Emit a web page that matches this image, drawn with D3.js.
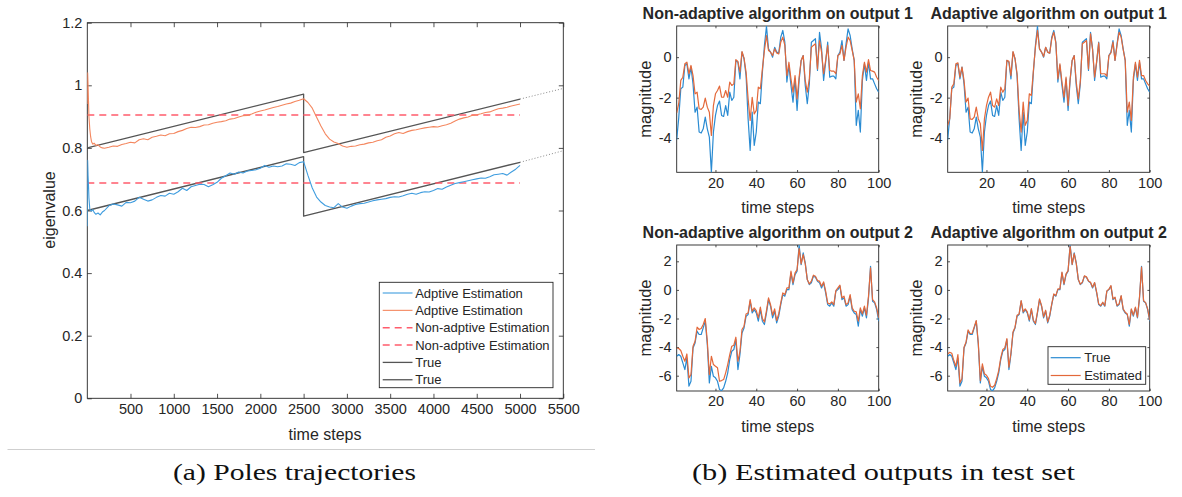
<!DOCTYPE html>
<html>
<head>
<meta charset="utf-8">
<script src="https://cdnjs.cloudflare.com/ajax/libs/d3/7.8.5/d3.min.js"></script>
<style>
body { margin: 0; background: #fff; }
</style>
</head>
<body>
<div id="chart-area"></div>
<script>
'use strict';

// ---- (a) poles trajectories ----
let poleSteps = [1, 5, 10, 15, 20, 30, 40, 50, 65, 80, 100, 125, 150, 175, 200,
    250, 300, 350, 400, 450, 500, 550, 600, 650, 700, 750, 800, 850, 900, 950, 1000,
    1050, 1100, 1150, 1200, 1250, 1300, 1350, 1400, 1450, 1500, 1550, 1600, 1650, 1700,
    1750, 1800, 1850, 1900, 1950, 2000, 2050, 2100, 2150, 2200, 2250, 2300, 2350, 2400,
    2450, 2500, 2550, 2600, 2650, 2700, 2750, 2800, 2850, 2900, 2950, 3000,
    3050, 3100, 3150, 3200, 3250, 3300, 3350, 3400, 3450, 3500, 3550, 3600, 3650, 3700,
    3750, 3800, 3850, 3900, 3950, 4000, 4050, 4100, 4150, 4200, 4250, 4300, 4350, 4400,
    4450, 4500, 4550, 4600, 4650, 4700, 4750, 4800, 4850, 4900, 4950, 5000];

let adaptivePole1 = [0.55, 0.76, 0.71, 0.68, 0.64, 0.605, 0.60, 0.598, 0.603, 0.594, 0.588, 0.592, 0.586, 0.595, 0.60,
    0.615, 0.621, 0.618, 0.614, 0.626, 0.625, 0.63, 0.642, 0.636, 0.63, 0.634, 0.642, 0.648, 0.646, 0.655, 0.652,
    0.66, 0.671, 0.664, 0.676, 0.68, 0.684, 0.683, 0.676, 0.682, 0.69, 0.703, 0.711, 0.72, 0.716,
    0.723, 0.72, 0.726, 0.728, 0.73, 0.735, 0.744, 0.738, 0.742, 0.74, 0.742, 0.749, 0.748, 0.744,
    0.753, 0.756, 0.712, 0.672, 0.643, 0.627, 0.616, 0.611, 0.609, 0.622, 0.611, 0.607,
    0.614, 0.619, 0.622, 0.623, 0.627, 0.631, 0.634, 0.636, 0.638, 0.642, 0.644, 0.643, 0.647, 0.652,
    0.655, 0.652, 0.657, 0.66, 0.659, 0.664, 0.67, 0.668, 0.675, 0.681, 0.686, 0.689, 0.692, 0.695,
    0.698, 0.701, 0.704, 0.703, 0.708, 0.714, 0.716, 0.718, 0.713, 0.723, 0.732, 0.744];

let adaptivePole2 = [0.94, 1.04, 1.00, 0.95, 0.90, 0.86, 0.835, 0.82, 0.812, 0.815, 0.808, 0.81, 0.803, 0.80, 0.799,
    0.802, 0.806, 0.805, 0.811, 0.814, 0.818, 0.816, 0.826, 0.829, 0.826, 0.834, 0.837, 0.841, 0.839, 0.845, 0.846,
    0.852, 0.856, 0.862, 0.866, 0.865, 0.868, 0.873, 0.874, 0.879, 0.882, 0.884, 0.887, 0.892, 0.894,
    0.899, 0.903, 0.904, 0.908, 0.914, 0.918, 0.921, 0.925, 0.929, 0.932, 0.936, 0.94, 0.943, 0.948,
    0.952, 0.957, 0.945, 0.927, 0.898, 0.87, 0.845, 0.828, 0.819, 0.814, 0.806, 0.802,
    0.805, 0.806, 0.81, 0.812, 0.816, 0.818, 0.823, 0.826, 0.834, 0.838, 0.845, 0.849, 0.846, 0.852,
    0.856, 0.858, 0.861, 0.864, 0.866, 0.868, 0.867, 0.871, 0.874, 0.879, 0.886, 0.892, 0.896, 0.899,
    0.904, 0.906, 0.909, 0.913, 0.915, 0.92, 0.925, 0.927, 0.93, 0.934, 0.937, 0.94];

let nonAdaptivePoles = [0.688, 0.905];
let nonAdaptiveSpan = [1, 5000];

let trueSteps = [1, 2500, 2500, 5000];
let truePole1 = [0.60, 0.772, 0.582, 0.754];
let truePole2 = [0.80, 0.972, 0.785, 0.956];
let extSteps = [5000, 5500];
let extPole1 = [0.754, 0.791];
let extPole2 = [0.956, 0.99];

let poleXTicks = [500, 1000, 1500, 2000, 2500, 3000, 3500, 4000, 4500, 5000, 5500];
let poleYTicks = [0, 0.2, 0.4, 0.6, 0.8, 1, 1.2];
let poleLegend = ['Adptive Estimation', 'Adptive Estimation', 'Non-adptive Estimation',
    'Non-adptive Estimation', 'True', 'True'];

// ---- (b) estimated outputs, time steps 1..100 ----
let true1 = [-4.07, -3.0, -1.56, -1.48, -0.41, -0.33, -1.07, -0.49, -1.32, -2.72,
    -2.47, -3.70, -3.75, -3.54, -2.96, -3.54, -3.95, -5.68, -3.70, -2.88,
    -2.39, -2.17, -2.88, -2.93, -2.39, -2.88, -1.73, -2.14, -1.98, -0.16,
    -0.25, -1.07, 0.25, -0.08, -0.91, -3.05, -4.61, -2.72, -4.36, -3.70,
    -2.22, -2.30, -0.74, 0.58, 1.53, 0.41, 0.25, 0, 0.49, 0.25,
    0.20, 0.99, 1.32, 0.74, -1.23, -0.41, -1.40, -2.22, -1.07, -2.63,
    -1.15, -0.16, 0.08, -1.40, -2.30, -1.32, 0.74, 0.82, 0.91, -0.66,
    1.23, 0.41, -1.15, -0.25, 0.74, -0.99, -0.94, -0.94, -1.07, 0.08,
    0.25, 0.82, -0.16, 0.66, 1.40, 1.07, 0.41, -0.16, -3.37, -2.63,
    -3.70, -1.15, -0.33, -1.15, -0.25, -1.07, -1.07, -1.32, -1.56, -1.73];

let nonAdaptive1 = [-2.75, -2.30, -1.15, -0.99, -0.33, -0.25, -0.82, -0.41, -0.91, -1.81,
    -1.73, -2.55, -2.58, -2.47, -2.02, -2.47, -2.72, -3.87, -2.39, -1.81,
    -1.65, -1.43, -1.98, -1.98, -1.65, -1.98, -1.23, -1.40, -1.32, -0.12,
    -0.21, -0.74, 0.28, -0.05, -0.74, -2.06, -3.13, -1.98, -2.80, -2.63,
    -1.48, -1.56, -0.58, 0.33, 1.07, 0.33, 0.25, 0.08, 0.41, 0.21,
    0.16, 0.74, 0.99, 0.58, -0.91, -0.25, -1.07, -1.73, -0.91, -2.06,
    -0.99, -0.16, 0.08, -1.15, -1.73, -1.07, 0.49, 0.58, 0.66, -0.58,
    0.82, 0.25, -0.82, -0.16, 0.58, -0.66, -0.69, -0.69, -0.82, 0.08,
    0.16, 0.58, -0.16, 0.49, 0.99, 0.82, 0.33, -0.16, -2.22, -1.81,
    -2.55, -0.91, -0.25, -0.74, -0.12, -0.66, -0.69, -0.74, -0.99, -1.15];

let adaptive1 = [-3.37, -3.05, -1.48, -1.32, -0.33, -0.28, -0.99, -0.49, -1.15, -2.22,
    -2.02, -3.05, -3.08, -2.96, -2.47, -3.05, -3.29, -4.61, -3.05, -2.39,
    -1.98, -1.73, -2.39, -2.47, -2.06, -2.39, -1.48, -1.73, -1.56, -0.16,
    -0.21, -0.91, 0.28, -0.08, -0.82, -2.63, -3.70, -2.22, -3.37, -3.13,
    -1.81, -1.89, -0.66, 0.49, 1.32, 0.41, 0.25, 0.03, 0.49, 0.25,
    0.20, 0.91, 1.23, 0.71, -1.07, -0.33, -1.23, -1.98, -0.99, -2.39,
    -1.07, -0.16, 0.08, -1.23, -2.06, -1.20, 0.66, 0.74, 0.82, -0.58,
    1.15, 0.38, -0.99, -0.21, 0.71, -0.82, -0.82, -0.82, -0.94, 0.08,
    0.21, 0.74, -0.16, 0.61, 1.23, 0.99, 0.38, -0.16, -2.72, -2.22,
    -3.13, -0.99, -0.25, -0.99, -0.16, -0.91, -0.91, -1.15, -1.32, -1.43];

let true2 = [-4.64, -4.52, -4.64, -5.10, -5.57, -4.76, -6.73, -6.39, -4.06, -3.71,
    -2.89, -3.12, -3.12, -2.66, -2.19, -3.82, -6.50, -5.34, -6.04, -6.15,
    -6.39, -6.97, -7.05, -6.85, -6.39, -5.80, -4.87, -4.29, -4.17, -3.47,
    -5.57, -4.52, -3.01, -2.66, -1.84, -1.72, -0.79, -1.61, -1.38, -1.61,
    -2.19, -1.38, -2.19, -2.42, -1.61, -0.68, -1.14, -1.96, -1.49, -2.31,
    -1.84, -1.03, -0.33, -0.44, 0.02, 0.02, 1.19, 0.37, 1.07, 1.31,
    3.15, 1.77, 2.59, 1.89, 0.72, 0.37, 0.49, 0.96, 0.89, 0.61,
    0.49, 0.14, 0.49, -0.21, -1.03, -1.14, -0.91, -1.14, -0.09, 0.02,
    0.26, -0.68, -0.56, -1.14, -1.03, -0.44, -1.38, -1.61, -1.72, -2.54,
    -1.38, -1.84, -1.26, -1.96, -0.56, 1.65, -0.79, -0.91, -1.38, -2.19];

let nonAdaptive2 = [-4.06, -4.10, -4.24, -4.64, -4.99, -4.48, -6.15, -5.92, -3.94, -3.59,
    -2.61, -2.77, -2.70, -2.42, -2.00, -3.59, -5.92, -4.64, -5.22, -5.34,
    -5.45, -6.39, -6.34, -6.27, -5.80, -5.22, -4.52, -3.94, -3.87, -3.31,
    -4.99, -4.29, -2.77, -2.54, -1.68, -1.61, -0.68, -1.49, -1.26, -1.45,
    -1.96, -1.21, -2.00, -2.24, -1.45, -0.56, -1.03, -1.77, -1.33, -2.14,
    -1.68, -0.91, -0.21, -0.33, 0.14, 0.14, 1.31, 0.49, 1.19, 1.42,
    2.89, 1.82, 2.47, 1.82, 0.72, 0.42, 0.61, 1.03, 0.96, 0.65,
    0.61, 0.26, 0.56, -0.09, -0.91, -0.98, -0.84, -1.03, -0.05, 0.14,
    0.33, -0.56, -0.44, -1.03, -0.91, -0.33, -1.26, -1.49, -1.54, -2.19,
    -1.26, -1.68, -1.14, -1.77, -0.44, 1.54, -0.68, -0.84, -1.26, -1.96];

let adaptive2 = [-4.48, -4.36, -4.43, -4.94, -5.34, -4.52, -6.50, -6.20, -4.01, -3.64,
    -2.80, -3.05, -3.03, -2.59, -2.14, -3.71, -6.34, -5.17, -5.87, -5.97,
    -6.20, -6.74, -6.81, -6.67, -6.20, -5.64, -4.76, -4.17, -4.06, -3.40,
    -5.41, -4.41, -2.94, -2.61, -1.77, -1.68, -0.75, -1.54, -1.33, -1.54,
    -2.10, -1.31, -2.12, -2.35, -1.54, -0.63, -1.10, -1.89, -1.42, -2.24,
    -1.77, -0.98, -0.28, -0.40, 0.07, 0.07, 1.24, 0.42, 1.12, 1.35,
    3.05, 1.79, 2.54, 1.86, 0.75, 0.40, 0.54, 0.98, 0.91, 0.63,
    0.54, 0.19, 0.51, -0.16, -0.98, -1.10, -0.86, -1.10, -0.07, 0.05,
    0.30, -0.63, -0.51, -1.10, -0.98, -0.40, -1.33, -1.56, -1.68, -2.42,
    -1.33, -1.77, -1.21, -1.91, -0.51, 1.59, -0.75, -0.89, -1.33, -2.12];

let outXTicks = [20, 40, 60, 80, 100];
let out1YTicks = [-4, -2, 0];
let out2YTicks = [-6, -4, -2, 0, 2];
let out1Lim = [-5.69, 1.54];
let out2Lim = [-7.07, 3.14];

const BLUE = '#2a8bd2', ORANGE = '#e3683a';
const LBLUE = '#3f9ddf', LORANGE = '#f4875f';
const RED = '#ff5c6c', GREY = '#555555';
const SANS = '"Liberation Sans", Arial, sans-serif';
const SERIF = '"Liberation Serif", "DejaVu Serif", serif';

let svg = d3.select('#chart-area').append('svg')
    .attr('width', 1182)
    .attr('height', 497)
    .style('font-family', SANS);

svg.append('rect').attr('width', 1182).attr('height', 497).attr('fill', '#fff');

let clipId = 0;

// axes frame with inward ticks on all four sides, MATLAB style
function frame(x, y, xt, yt, tl, fs) {
    let [x0, x1] = x.range();
    let [y0, y1] = y.range();   // y0 = bottom
    let g = svg.append('g');
    let fmt = (d) => String(d);

    g.append('g').attr('transform', `translate(0,${y0})`)
        .call(d3.axisBottom(x).tickValues(xt).tickSize(-tl).tickPadding(5).tickFormat(fmt));
    g.append('g').attr('transform', `translate(0,${y1})`)
        .call(d3.axisTop(x).tickValues(xt).tickSize(-tl).tickFormat(''));
    g.append('g').attr('transform', `translate(${x0},0)`)
        .call(d3.axisLeft(y).tickValues(yt).tickSize(-tl).tickPadding(5).tickFormat(fmt));
    g.append('g').attr('transform', `translate(${x1},0)`)
        .call(d3.axisRight(y).tickValues(yt).tickSize(-tl).tickFormat(''));

    g.selectAll('.domain').remove();
    g.selectAll('.tick line').attr('stroke', '#262626').attr('stroke-width', 0.8);
    g.selectAll('.tick text').attr('font-size', fs).attr('fill', '#262626')
        .attr('font-family', SANS);

    g.append('rect')
        .attr('x', x0).attr('y', y1)
        .attr('width', x1 - x0).attr('height', y0 - y1)
        .attr('fill', 'none').attr('stroke', '#262626').attr('stroke-width', 0.9);

    clipId += 1;
    svg.append('clipPath').attr('id', 'clip' + clipId)
        .append('rect').attr('x', x0).attr('y', y1)
        .attr('width', x1 - x0).attr('height', y0 - y1);
    return 'url(#clip' + clipId + ')';
}

function series(xs, ys, x, y, color, width, dash, clip) {
    let line = d3.line()
        .x((d, i) => x(xs ? xs[i] : i + 1))
        .y((d) => y(d));
    svg.append('path')
        .datum(ys)
        .attr('d', line)
        .attr('fill', 'none')
        .attr('stroke', color)
        .attr('stroke-width', width)
        .attr('stroke-dasharray', dash || null)
        .attr('stroke-linejoin', 'round')
        .attr('clip-path', clip || null);
}

function label(txt, px, py, fs, rot, weight) {
    svg.append('text')
        .attr('transform', `translate(${px},${py})` + (rot ? ` rotate(${rot})` : ''))
        .attr('text-anchor', 'middle')
        .attr('font-size', fs)
        .attr('font-weight', weight || 'normal')
        .attr('fill', '#262626')
        .text(txt);
}

// ---------- left: poles ----------
function drawPoles() {
    let x = d3.scaleLinear().domain([1, 5500]).range([87.3, 563.3]);
    let y = d3.scaleLinear().domain([0, 1.2]).range([398.3, 22.7]);
    let clip = frame(x, y, poleXTicks, poleYTicks, 4.5, 14.5);

    series(trueSteps, truePole2, x, y, GREY, 1.3, null, clip);
    series(trueSteps, truePole1, x, y, GREY, 1.3, null, clip);
    series(extSteps, extPole2, x, y, '#8a8a8a', 1, '1,2', clip);
    series(extSteps, extPole1, x, y, '#8a8a8a', 1, '1,2', clip);
    nonAdaptivePoles.forEach((v) => {
        series(nonAdaptiveSpan, [v, v], x, y, RED, 1.6, '7,5', clip);
    });
    series(poleSteps, adaptivePole2, x, y, LORANGE, 1.1, null, clip);
    series(poleSteps, adaptivePole1, x, y, LBLUE, 1.1, null, clip);

    label('eigenvalue', 55, 210, 16, -90);
    label('time steps', 325, 440, 16);

    // legend
    let lg = svg.append('g');
    lg.append('rect').attr('x', 379.3).attr('y', 282.3)
        .attr('width', 173.7).attr('height', 105.4)
        .attr('fill', '#fff').attr('stroke', '#262626').attr('stroke-width', 0.9);
    let styles = [[LBLUE, null, 1.1], [LORANGE, null, 1.1], [RED, '7,5', 1.6],
        [RED, '7,5', 1.6], [GREY, null, 1.3], [GREY, null, 1.3]];
    poleLegend.forEach((name, i) => {
        let cy = 293 + i * 17.35;
        lg.append('line').attr('x1', 382.7).attr('x2', 412.5)
            .attr('y1', cy).attr('y2', cy)
            .attr('stroke', styles[i][0]).attr('stroke-width', styles[i][2])
            .attr('stroke-dasharray', styles[i][1]);
        lg.append('text').attr('x', 415.2).attr('y', cy + 4.6)
            .attr('font-size', 13).attr('fill', '#262626').text(name);
    });
}

// ---------- right: outputs ----------
function drawOutput(x0, x1, y0, y1, lim, yt, est, tru, title, legend) {
    let x = d3.scaleLinear().domain([1, 100]).range([x0, x1]);
    let y = d3.scaleLinear().domain(lim).range([y0, y1]);
    let clip = frame(x, y, outXTicks, yt, 2.3, 14.5);
    series(null, tru, x, y, BLUE, 1.2, null, clip);
    series(null, est, x, y, ORANGE, 1.2, null, clip);
    let cx = (x0 + x1) / 2;
    label(title, cx, y1 - 7, 16, 0, 'bold');
    label('time steps', cx, y0 + 41, 16);
    label('magnitude', x0 - 26, (y0 + y1) / 2, 16.5, -90);

    if (legend) {
        let lg = svg.append('g');
        lg.append('rect').attr('x', 1048).attr('y', 346.7)
            .attr('width', 97.7).attr('height', 37.6)
            .attr('fill', '#fff').attr('stroke', '#262626').attr('stroke-width', 0.9);
        [['True', BLUE], ['Estimated', ORANGE]].forEach((d, i) => {
            let cy = 357.7 + i * 17.8;
            lg.append('line').attr('x1', 1050.7).attr('x2', 1080.7)
                .attr('y1', cy).attr('y2', cy)
                .attr('stroke', d[1]).attr('stroke-width', 1.2);
            lg.append('text').attr('x', 1084.2).attr('y', cy + 4.6)
                .attr('font-size', 13).attr('fill', '#262626').text(d[0]);
        });
    }
}

drawPoles();
drawOutput(676.7, 878.7, 172.3, 26, out1Lim, out1YTicks, nonAdaptive1, true1,
    'Non-adaptive algorithm on output 1', false);
drawOutput(947.7, 1149.7, 172.3, 26, out1Lim, out1YTicks, adaptive1, true1,
    'Adaptive algorithm on output 1', false);
drawOutput(676.7, 878.7, 391, 245, out2Lim, out2YTicks, nonAdaptive2, true2,
    'Non-adaptive algorithm on output 2', false);
drawOutput(947.7, 1149.7, 391, 245, out2Lim, out2YTicks, adaptive2, true2,
    'Adaptive algorithm on output 2', true);

// rule and captions
svg.append('line').attr('x1', 7.5).attr('x2', 595).attr('y1', 449.5).attr('y2', 449.5)
    .attr('stroke', '#cfcfcf').attr('stroke-width', 1.2);

svg.append('text').attr('x', 173).attr('y', 480)
    .style('font-family', SERIF)
    .attr('font-size', 24).attr('textLength', 243).attr('lengthAdjust', 'spacingAndGlyphs')
    .attr('fill', '#111').text('(a) Poles trajectories');
svg.append('text').attr('x', 692).attr('y', 480)
    .style('font-family', SERIF)
    .attr('font-size', 24).attr('textLength', 383).attr('lengthAdjust', 'spacingAndGlyphs')
    .attr('fill', '#111').text('(b) Estimated outputs in test set');
</script>
</body>
</html>
